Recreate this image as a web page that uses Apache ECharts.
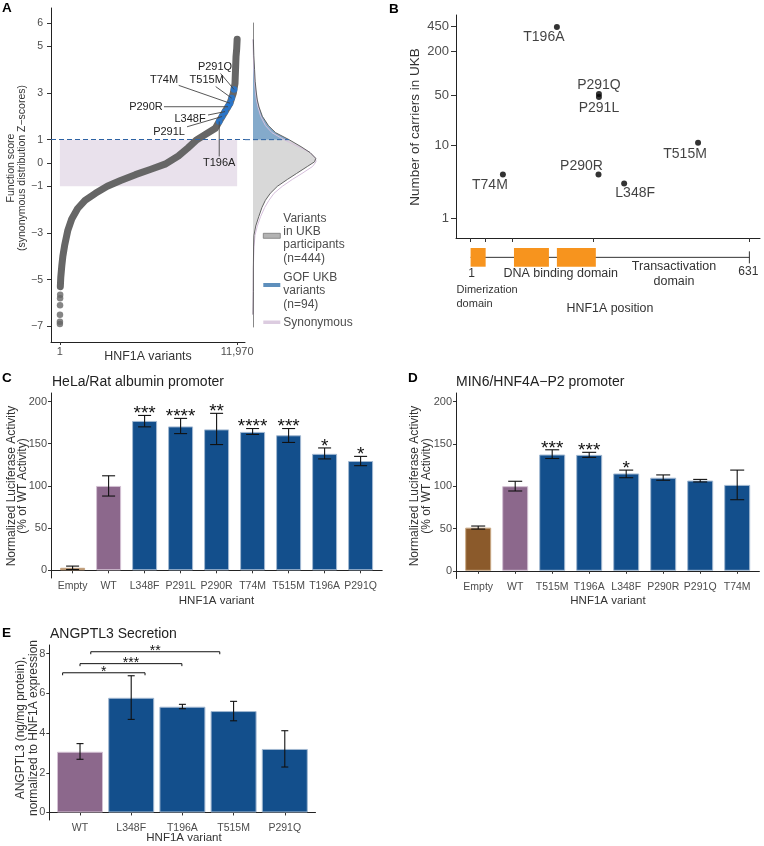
<!DOCTYPE html>
<html><head><meta charset="utf-8">
<script src="https://cdn.jsdelivr.net/npm/echarts@6/dist/echarts.min.js"></script>
<style>html,body{margin:0;padding:0;background:#fff}#c{width:764px;height:846px}</style>
</head><body><div id="c"></div>
<script>
// ---------------- Panel A data ----------------
const curveRank  = [30,60,130,200,330,530,800,1200,1700,2400,3200,4100,5100,6100,7100,8000,8650,9250,9900,10500,10813,11150,11488,11711,11825,11893,11940,11970];
const curveScore = [-5.3,-4.9,-4.4,-4.0,-3.5,-2.9,-2.4,-1.95,-1.6,-1.3,-1.0,-0.75,-0.5,-0.28,-0.05,0.3,0.65,1.0,1.25,1.49,1.84,2.2,2.56,2.99,3.41,4.55,4.9,5.3];
const tailRank  = [1,3,6,10,15,20];
const tailScore = [-6.9,-6.8,-6.5,-6.1,-5.8,-5.65];
const gofNames = ['T196A','P291L','L348F','P290R','T74M','T515M','P291Q'];
const gofRank  = [10760,10950,11150,11350,11488,11600,11760];
const gofScore = [1.78,1.99,2.2,2.41,2.56,2.78,3.15];
const synBand = [-1, 1];
const gofThreshold = 1;
const variantRange = [1, 11970];
const scoreTicks = [-7,-5,-3,-1,0,1,3,5,6];
const densScore = [5.3,4.6,4.0,3.5,3.0,2.7,2.4,2.0,1.6,1.3,1.0,0.7,0.45,0.2,0.05,-0.15,-0.45,-0.7,-1.0,-1.3,-1.6,-1.9,-2.3,-2.7,-3.1,-3.6,-4.5,-5.5,-6.5];
const densUKB = [0.003,0.007,0.013,0.018,0.028,0.036,0.050,0.078,0.129,0.188,0.300,0.400,0.475,0.523,0.513,0.453,0.363,0.288,0.203,0.144,0.103,0.075,0.048,0.023,0.008,0.005,0.003,0.003,0.001];
const densSyn = [0,0.003,0.007,0.013,0.021,0.029,0.042,0.064,0.104,0.158,0.258,0.379,0.475,0.521,0.525,0.496,0.408,0.329,0.244,0.175,0.133,0.098,0.063,0.036,0.017,0.008,0.003,0.001,0];

// ---------------- Panel B data ----------------
const bNames    = ['T74M','T196A','P290R','P291Q','P291L','L348F','T515M'];
const bPos      = [74,196,290,291,291,348,515];
const bCarriers = [4,440,4,52,47,3,11];
const carrierTicks = [1,10,50,200,450];
const positionTicks = [1,33,96,279,631];
const domainStart = [1,99,196];
const domainEnd   = [35,178,284];
const proteinLength = 631;

// ---------------- Panel C data ----------------
const cCats = ['Empty','WT','L348F','P291L','P290R','T74M','T515M','T196A','P291Q'];
const cMean = [3,100,177,170.5,167,164,160,138,129.5];
const cLow  = [1,88,170,162,149,161,151.5,132,124];
const cHigh = [5,112,183.5,180,186,168,168,145,135];
const cSig  = ['','','***','****','**','****','***','*','*'];

// ---------------- Panel D data ----------------
const dCats = ['Empty','WT','T515M','T196A','L348F','P290R','P291Q','T74M'];
const dMean = [51,100,137.4,137,115,110,106.6,101.5];
const dLow  = [49.3,94.3,132.7,134,110,107,105,84];
const dHigh = [52.9,105.8,143,140,119,113.3,108,119];
const dSig  = ['','','***','***','*','','',''];
const activityTicks = [0,50,100,150,200];

// ---------------- Panel E data ----------------
const eCats = ['WT','L348F','T196A','T515M','P291Q'];
const eMean = [3.06,5.78,5.33,5.11,3.2];
const eLow  = [2.68,4.69,5.23,4.62,2.29];
const eHigh = [3.47,6.89,5.45,5.6,4.12];
const eTicks = [0,2,4,6,8];
const eBracketFrom = [0.66,1.0,1.21];
const eBracketTo   = [2.27,2.99,3.73];
const eBracketY    = [7.04,7.5,8.1];
const eBracketSig  = ['*','***','**'];

// ---------------- styles ----------------
const FONT = 'Liberation Sans, Arial, Helvetica, sans-serif';
const AXC = '#222', TICKC = '#4d4d4d', TITC = '#222';
const BLUE = '#134f8c', PURPLE = '#8c688c', BROWN = '#8b5a2b';
const gofLabelOffset = [[0,41.5],[-53,15.5],[-35,7],[-82,0],[-66,-23],[-25,-18],[-19,-22.5]];
const bLabelOffset = [[-13,11],[-13,10],[-17,-8.5],[0,-9],[0,11],[11,10],[-13,11]];
const densXMin = -0.0667, densXMax = 0.6;

function barStyle(cat){
  if (cat === 'Empty') return {color: BROWN, borderColor: '#c9a986', borderWidth: 1};
  if (cat === 'WT') return {color: PURPLE, borderColor: '#d3c0d3', borderWidth: 1};
  return {color: BLUE, borderColor: '#a3b9d2', borderWidth: 1};
}
function minusFmt(v){ return v < 0 ? '\u2212' + (-v) : String(v); }
function range1(n){ const a=[]; for(let i=1;i<=n;i++) a.push(i); return a; }

function catXAxis(gi, cats){
  const n = cats.length;
  return {type:'value', gridIndex:gi, min:0.4, max:n+0.6,
    axisLine:{show:true, lineStyle:{color:AXC, width:1}},
    axisTick:{show:true, customValues:range1(n), length:3, lineStyle:{color:'#333'}},
    axisLabel:{customValues:range1(n), formatter:v=>cats[Math.round(v)-1], fontSize:10.5, color:TICKC, margin:3, fontFamily:FONT},
    splitLine:{show:false}};
}
function numYAxis(gi, min, max, ticks, fs, margin, tl){
  return {type:'value', gridIndex:gi, min:min, max:max,
    axisLine:{show:true, onZero:false, lineStyle:{color:AXC, width:1}},
    axisTick:{show:true, customValues:ticks, length:tl||3, lineStyle:{color:'#333'}},
    axisLabel:{customValues:ticks, fontSize:fs||11, color:TICKC, margin:margin||4, fontFamily:FONT, formatter:minusFmt},
    splitLine:{show:false}};
}
function txt(t, x, y, o){
  o = o || {};
  const st = {text:t, x:0, y:0, fill:o.fill||TITC, fontSize:o.fs||11, fontFamily:FONT,
    fontWeight:o.bold?'bold':'normal',
    align:o.align||'left', textAlign:o.align||'left',
    verticalAlign:'middle', textVerticalAlign:'middle', lineHeight:o.lh||undefined};
  return {type:'text', x:x, y:y, rotation:o.rot||0, style:st, silent:true};
}
function barSeries(ax, cats, mean, bw){
  return {type:'bar', xAxisIndex:ax, yAxisIndex:ax, barWidth:bw, z:2,
    data: mean.map((v,i)=>({value:[i+1, v], itemStyle:barStyle(cats[i])}))};
}
function errSeries(ax, low, high, sig, capHalf, starSize){
  return {type:'custom', xAxisIndex:ax, yAxisIndex:ax, z:5,
    data: low.map((l,i)=>[i+1, l, high[i]]),
    renderItem:(params, api)=>{
      const i = params.dataIndex, x = api.value(0);
      const pl = api.coord([x, api.value(1)]), ph = api.coord([x, api.value(2)]);
      const st = {stroke:'#111', lineWidth:1.1};
      const kids = [
        {type:'line', shape:{x1:pl[0],y1:pl[1],x2:ph[0],y2:ph[1]}, style:st},
        {type:'line', shape:{x1:pl[0]-capHalf,y1:pl[1],x2:pl[0]+capHalf,y2:pl[1]}, style:st},
        {type:'line', shape:{x1:ph[0]-capHalf,y1:ph[1],x2:ph[0]+capHalf,y2:ph[1]}, style:st}];
      if (sig && sig[i]) kids.push({type:'text', style:{text:sig[i], x:ph[0], y:ph[1]-1.5,
        align:'center', textAlign:'center', verticalAlign:'middle', textVerticalAlign:'middle',
        fontSize:starSize, fontFamily:FONT, fill:'#111'}});
      return {type:'group', children:kids};
    }};
}

const option = {
  animation:false,
  textStyle:{fontFamily:FONT},
  grid:[
    {left:51, top:8, width:194, height:334},       // 0 A curve
    {left:245, top:23, width:80, height:304},      // 1 A density
    {left:456, top:15, width:304, height:223},     // 2 B scatter
    {left:456, top:248, width:304, height:18.7},   // 3 B domains
    {left:51, top:393, width:331.2, height:185},   // 4 C
    {left:456, top:393, width:303.4, height:185.5},// 5 D
    {left:49.3, top:645, width:266.2, height:175}  // 6 E
  ],
  xAxis:[
    {type:'value', gridIndex:0, min:-600, max:12500,
      axisLine:{show:true, onZero:false, lineStyle:{color:AXC}},
      axisTick:{show:true, customValues:variantRange, length:3, lineStyle:{color:'#333'}},
      axisLabel:{customValues:variantRange, formatter:v=>Number(v).toLocaleString('en-US'), fontSize:11, color:TICKC, margin:4},
      splitLine:{show:false}},
    {type:'value', gridIndex:1, min:densXMin, max:densXMax, show:false, splitLine:{show:false}},
    {type:'value', gridIndex:2, min:-32, max:655,
      axisLine:{show:true, onZero:false, lineStyle:{color:AXC}},
      axisTick:{show:true, customValues:positionTicks, length:4, lineStyle:{color:'#333'}},
      axisLabel:{show:false}, splitLine:{show:false}},
    {type:'value', gridIndex:3, min:-32, max:655, show:false, splitLine:{show:false}},
    catXAxis(4, cCats),
    catXAxis(5, dCats),
    catXAxis(6, eCats)
  ],
  yAxis:[
    numYAxis(0, -7.67, 6.64, scoreTicks, 10.5, 8, 4),
    {type:'value', gridIndex:1, min:-7.03, max:6.0,
      axisLine:{show:true, onZero:true, lineStyle:{color:'#888', width:1}},
      axisTick:{show:false}, axisLabel:{show:false}, splitLine:{show:false}},
    {type:'value', gridIndex:2, min:-0.2766, max:2.808,
      axisLine:{show:true, onZero:false, lineStyle:{color:AXC}},
      axisTick:{show:true, customValues:carrierTicks.map(Math.log10), length:5, lineStyle:{color:'#333'}},
      axisLabel:{customValues:carrierTicks.map(Math.log10), formatter:v=>String(Math.round(Math.pow(10,v))), fontSize:13, color:TICKC, margin:7},
      splitLine:{show:false}},
    {type:'value', gridIndex:3, min:0, max:1, show:false, splitLine:{show:false}},
    numYAxis(4, -9.1, 210.1, activityTicks, 11, 4, 3),
    numYAxis(5, -9.1, 210.1, activityTicks, 11, 4, 3),
    numYAxis(6, -0.38, 8.44, eTicks, 11, 4, 3)
  ],
  series:[
    // A: sorted function-score curve
    {type:'line', xAxisIndex:0, yAxisIndex:0, z:2, showSymbol:false, symbol:'none', silent:true,
      data: curveRank.map((r,i)=>[r, curveScore[i]]),
      lineStyle:{color:'#666', width:7, cap:'round', join:'round'},
      markArea:{silent:true, itemStyle:{color:'#e9e1ec'},
        data:[[{xAxis:variantRange[0], yAxis:synBand[0]},{xAxis:variantRange[1], yAxis:synBand[1]}]]},
      markLine:{silent:true, symbol:'none', label:{show:false},
        lineStyle:{color:'#2d62a3', type:[5,3], width:1}, data:[{yAxis:gofThreshold}]}},
    {type:'scatter', xAxisIndex:0, yAxisIndex:0, z:2, symbolSize:6.5, silent:true,
      itemStyle:{color:'#666'}, data: tailRank.map((r,i)=>[r, tailScore[i]])},
    {type:'scatter', xAxisIndex:0, yAxisIndex:0, z:3, symbolSize:6.5, silent:true,
      itemStyle:{color:'#1e78dc'}, data: gofRank.map((r,i)=>[r, gofScore[i]])},
    {type:'custom', xAxisIndex:0, yAxisIndex:0, z:4, silent:true,
      data: gofRank.map((r,i)=>[r, gofScore[i]]),
      renderItem:(params, api)=>{
        const i = params.dataIndex;
        const p = api.coord([api.value(0), api.value(1)]);
        const o = gofLabelOffset[i];
        const cx = p[0]+o[0], cy = p[1]+o[1];
        const hw = gofNames[i].length*3.3 + 1.5, hh = 6.5;
        const dx = p[0]-cx, dy = p[1]-cy;
        const t = Math.min(dx ? hw/Math.abs(dx) : Infinity, dy ? hh/Math.abs(dy) : Infinity);
        const sx = cx + dx*t, sy = cy + dy*t;
        return {type:'group', children:[
          {type:'line', shape:{x1:sx,y1:sy,x2:p[0],y2:p[1]}, style:{stroke:'#444', lineWidth:0.9}},
          {type:'text', style:{text:gofNames[i], x:cx, y:cy, align:'center', textAlign:'center',
            verticalAlign:'middle', textVerticalAlign:'middle', fontSize:11, fontFamily:FONT, fill:'#222'}}
        ]};
      }},
    // A: density strip
    {type:'custom', xAxisIndex:1, yAxisIndex:1, z:2, silent:true, data:[[0,0]],
      renderItem:(params, api)=>{
        const pts = densScore.map((s,i)=>api.coord([densUKB[i], s]));
        const syn = densScore.map((s,i)=>api.coord([densSyn[i], s]));
        const iT = densScore.indexOf(gofThreshold);
        const top = densScore[0], bot = densScore[densScore.length-1];
        const blue = [api.coord([0, top])].concat(pts.slice(0, iT+1), [api.coord([0, gofThreshold])]);
        const grey = [api.coord([0, gofThreshold])].concat(pts.slice(iT), [api.coord([0, bot])]);
        const d0 = api.coord([densXMin, gofThreshold]), d1 = pts[iT];
        return {type:'group', children:[
          {type:'polygon', shape:{points:grey}, style:{fill:'#d8d8d8'}},
          {type:'polygon', shape:{points:blue}, style:{fill:'#84aacb'}},
          {type:'polyline', shape:{points:syn}, style:{stroke:'#d6c0dc', lineWidth:1, fill:'none'}},
          {type:'polyline', shape:{points:pts}, style:{stroke:'#555', lineWidth:0.9, fill:'none'}},
          {type:'line', shape:{x1:d0[0],y1:d0[1],x2:d1[0],y2:d1[1]}, style:{stroke:'#2d62a3', lineWidth:1, lineDash:[5,3]}}
        ]};
      }},
    // B: carriers scatter
    {type:'scatter', xAxisIndex:2, yAxisIndex:2, z:3, symbolSize:6, silent:true,
      itemStyle:{color:'#000'},
      data: bPos.map((p,i)=>({name:bNames[i], value:[p, Math.log10(bCarriers[i])],
        label:{show:true, position:'inside', offset:bLabelOffset[i], formatter:bNames[i],
          color:'#111', fontSize:14, fontFamily:FONT}}))},
    // B: protein domain track
    {type:'custom', xAxisIndex:3, yAxisIndex:3, z:2, silent:true, data:[[0,0]],
      renderItem:(params, api)=>{
        const a = api.coord([1, 0.5]), b = api.coord([proteinLength, 0.5]);
        const kids = [
          {type:'line', shape:{x1:a[0],y1:a[1],x2:b[0],y2:b[1]}, style:{stroke:'#333', lineWidth:1}},
          {type:'line', shape:{x1:b[0],y1:b[1]-6,x2:b[0],y2:b[1]+6}, style:{stroke:'#333', lineWidth:1}}];
        domainStart.forEach((s,i)=>{
          const p0 = api.coord([s, 1]), p1 = api.coord([domainEnd[i], 0]);
          kids.push({type:'rect', shape:{x:p0[0], y:p0[1], width:p1[0]-p0[0], height:p1[1]-p0[1]},
            style:{fill:'#f7941e'}});
        });
        return {type:'group', children:kids};
      }},
    // C
    barSeries(4, cCats, cMean, 25),
    errSeries(4, cLow, cHigh, cSig, 6.5, 19),
    // D
    barSeries(5, dCats, dMean, 26),
    errSeries(5, dLow, dHigh, dSig, 7, 19),
    // E
    barSeries(6, eCats, eMean, 46),
    errSeries(6, eLow, eHigh, null, 3.5, 14),
    {type:'custom', xAxisIndex:6, yAxisIndex:6, z:5, silent:true,
      data: eBracketFrom.map((f,i)=>[f, eBracketTo[i], eBracketY[i]]),
      renderItem:(params, api)=>{
        const i = params.dataIndex;
        const p1 = api.coord([api.value(0), api.value(2)]), p2 = api.coord([api.value(1), api.value(2)]);
        const st = {stroke:'#111', lineWidth:1};
        return {type:'group', children:[
          {type:'line', shape:{x1:p1[0],y1:p1[1],x2:p2[0],y2:p2[1]}, style:st},
          {type:'line', shape:{x1:p1[0],y1:p1[1],x2:p1[0],y2:p1[1]+2.5}, style:st},
          {type:'line', shape:{x1:p2[0],y1:p2[1],x2:p2[0],y2:p2[1]+2.5}, style:st},
          {type:'text', style:{text:eBracketSig[i], x:(p1[0]+p2[0])/2, y:p1[1]-0.5, align:'center', textAlign:'center',
            verticalAlign:'middle', textVerticalAlign:'middle', fontSize:14, fontFamily:FONT, fill:'#111'}}
        ]};
      }}
  ],
  graphic:{elements:[
    txt('A', 2, 8.5, {fs:13.5, bold:true, fill:'#000'}),
    txt('B', 389, 9.5, {fs:13.5, bold:true, fill:'#000'}),
    txt('C', 2, 378, {fs:13.5, bold:true, fill:'#000'}),
    txt('D', 408, 378, {fs:13.5, bold:true, fill:'#000'}),
    txt('E', 2, 633, {fs:13.5, bold:true, fill:'#000'}),
    // A
    txt('Function score\n(synonymous distribution Z\u2212scores)', 17, 168, {fs:10.5, align:'center', rot:Math.PI/2, lh:11, fill:'#333'}),
    txt('HNF1A variants', 148, 357, {fs:12.4, align:'center', fill:'#333'}),
    {type:'rect', shape:{x:263.3, y:233.3, width:17, height:5}, style:{fill:'#b3b3b3', stroke:'#7a7a7a', lineWidth:0.8}, silent:true},
    txt('Variants\nin UKB\nparticipants\n(n=444)', 283.3, 238.3, {fs:12, lh:13.3, fill:'#4d4d4d'}),
    {type:'rect', shape:{x:263.3, y:283, width:17, height:4}, style:{fill:'#5e8fbc'}, silent:true},
    txt('GOF UKB\nvariants\n(n=94)', 283.3, 290.7, {fs:12, lh:13.5, fill:'#4d4d4d'}),
    {type:'rect', shape:{x:263.3, y:320.5, width:17, height:3.5}, style:{fill:'#dccce0'}, silent:true},
    txt('Synonymous', 283.3, 322.7, {fs:12, fill:'#4d4d4d'}),
    // B
    txt('Number of carriers in UKB', 415, 127, {fs:13.5, align:'center', rot:Math.PI/2, fill:'#333'}),
    txt('1', 471.7, 273.3, {fs:12, align:'center', fill:'#333'}),
    txt('DNA binding domain', 560.7, 273.3, {fs:12.5, align:'center', fill:'#333'}),
    txt('Transactivation\ndomain', 674, 274.2, {fs:12.5, align:'center', lh:15, fill:'#333'}),
    txt('631', 748.3, 271.7, {fs:12, align:'center', fill:'#333'}),
    txt('Dimerization\ndomain', 456.5, 297, {fs:11, lh:14, fill:'#333'}),
    txt('HNF1A position', 610, 309, {fs:12.4, align:'center', fill:'#333'}),
    // C
    txt('HeLa/Rat albumin promoter', 52, 381.7, {fs:14, fill:'#222'}),
    txt('Normalized Luciferase Activity\n(% of WT Activity)', 17, 486, {fs:12, align:'center', rot:Math.PI/2, lh:11.5, fill:'#333'}),
    txt('HNF1A variant', 216.5, 600.7, {fs:11.5, align:'center', fill:'#333'}),
    // D
    txt('MIN6/HNF4A\u2212P2 promoter', 456, 381.7, {fs:14, fill:'#222'}),
    txt('Normalized Luciferase Activity\n(% of WT Activity)', 421, 486, {fs:12, align:'center', rot:Math.PI/2, lh:12, fill:'#333'}),
    txt('HNF1A variant', 608, 600.7, {fs:11.5, align:'center', fill:'#333'}),
    // E
    txt('ANGPTL3 Secretion', 50, 634, {fs:14, fill:'#222'}),
    txt('ANGPTL3 (ng/mg protein),\nnormalized to HNF1A expression', 27, 728, {fs:12, align:'center', rot:Math.PI/2, lh:12.6, fill:'#333'}),
    txt('HNF1A variant', 184, 838, {fs:11.5, align:'center', fill:'#333'})
  ]}
};
const chart = echarts.init(document.getElementById('c'), null, {renderer:'canvas'});
chart.setOption(option);
</script>
</body></html>
